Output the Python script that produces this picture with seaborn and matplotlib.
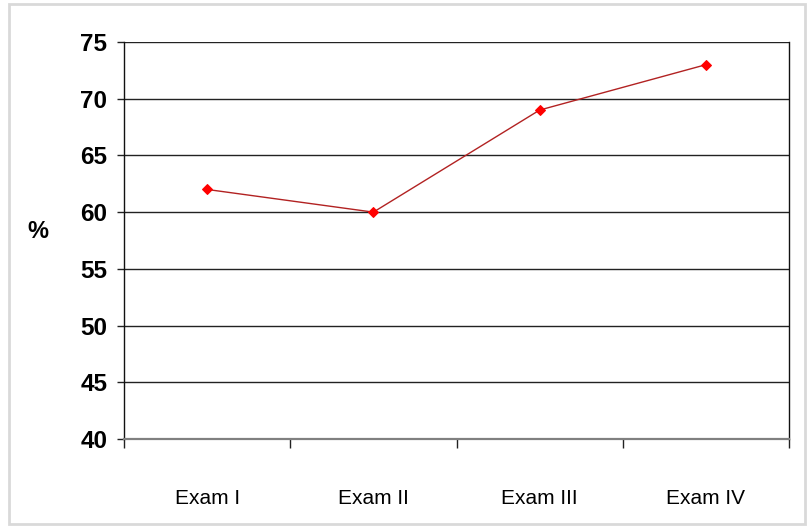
import pandas as pd
import matplotlib
matplotlib.use("Agg")
import matplotlib.pyplot as plt
import matplotlib.patches as mpatches
import seaborn as sns

exams = ["Exam I", "Exam II", "Exam III", "Exam IV"]
scores = [62, 60, 69, 73]
yticks = [40, 45, 50, 55, 60, 65, 70, 75]


def main():
    sns.set_style("white")
    plt.rcParams['font.family'] = ["Liberation Sans", "DejaVu Sans"]
    plt.rcParams['text.color'] = "black"
    plt.rcParams['xtick.color'] = "black"
    plt.rcParams['ytick.color'] = "black"

    df = pd.DataFrame({"pos": range(len(exams)), "score": scores})

    fig = plt.figure(figsize=(8.11, 5.27), dpi=100)
    ax = fig.add_axes([0.1529, 0.167, 0.82, 0.7533])

    # light grey frame round the whole picture
    fig.patches.append(mpatches.Rectangle((0.011, 0.006), 0.981, 0.986,
                                          transform=fig.transFigure,
                                          fill=False, edgecolor="#d9d9d9",
                                          linewidth=2))

    sns.lineplot(data=df, x="pos", y="score", ax=ax, color="#b22222",
                 linewidth=1.0, marker="D", markersize=5,
                 markerfacecolor="red", markeredgecolor="red")

    ax.set_xlim(-0.5, 3.5)
    ax.set_ylim(40, 75)
    ax.set_yticks(yticks)
    ax.set_yticklabels([str(v) for v in yticks], fontsize=17.5,
                       fontweight="bold")
    for v in yticks[1:]:
        ax.axhline(v, color="#222222", lw=1.0, zorder=0)

    # tick marks between categories, labels at the centres
    ax.set_xticks([-0.5, 0.5, 1.5, 2.5, 3.5])
    ax.set_xticklabels([])
    ax.set_xticks(range(len(exams)), minor=True)
    ax.set_xticklabels(exams, minor=True, fontsize=15)
    ax.tick_params(axis="x", which="minor", length=0, pad=36)
    ax.tick_params(axis="x", which="major", length=6.5, width=1,
                   color="#222222", direction="out", bottom=True)
    ax.tick_params(axis="y", length=5, width=1, color="#222222",
                   direction="out", left=True, pad=7)

    ax.spines["top"].set_visible(False)
    ax.spines["left"].set_color("#111111")
    ax.spines["right"].set_color("#111111")
    ax.spines["bottom"].set_color("#808080")
    ax.spines["bottom"].set_linewidth(1.6)
    for s in ["left", "right"]:
        ax.spines[s].set_linewidth(1.0)

    ax.set_xlabel("")
    ax.set_ylabel("")
    fig.text(38 / 811, 1 - 231 / 527, "%", fontsize=17, fontweight="bold",
             ha="center", va="center")

    fig.savefig("out.png", dpi=100)


if __name__ == "__main__":
    main()
